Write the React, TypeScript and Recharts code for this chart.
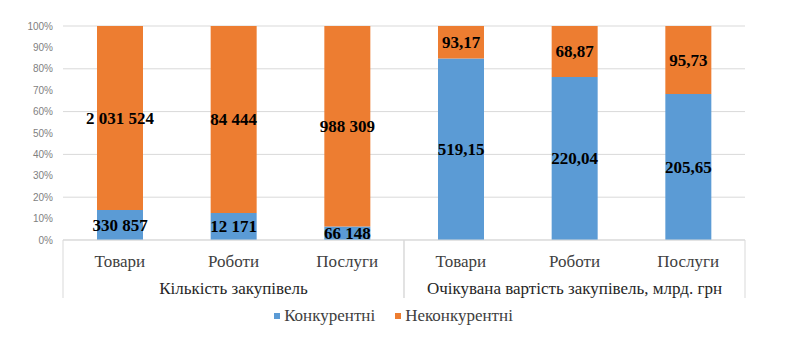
import { Bar, BarChart, CartesianGrid, LabelList, Legend, XAxis, YAxis } from "recharts";

const categories = ["Товари", "Роботи", "Послуги", "Товари", "Роботи", "Послуги"];
const groups = [
  "Кількість закупівель",
  "Кількість закупівель",
  "Кількість закупівель",
  "Очікувана вартість закупівель, млрд. грн",
  "Очікувана вартість закупівель, млрд. грн",
  "Очікувана вартість закупівель, млрд. грн",
];
const competitive = [330857, 12171, 66148, 519.15, 220.04, 205.65];
const nonCompetitive = [2031524, 84444, 988309, 93.17, 68.87, 95.73];
const yTicks = [0, 0.1, 0.2, 0.3, 0.4, 0.5, 0.6, 0.7, 0.8, 0.9, 1];

const data = categories.map((name, i) => ({
  key: `${groups[i]}-${name}`,
  name,
  group: groups[i],
  comp: competitive[i],
  nonComp: nonCompetitive[i],
}));

const BLUE = "#5b9bd5";
const ORANGE = "#ed7d31";
const SERIF = "'Liberation Serif', 'Times New Roman', serif";

const W = 787;
const H = 355;
const LEFT = 63;
const RIGHT = 42;

// пробіли між тисячами, кома в дробах
const fmt = (v: number) =>
  Number.isInteger(v)
    ? String(v).replace(/\B(?=(\d{3})+(?!\d))/g, " ")
    : v.toFixed(2).replace(".", ",");

const ValueLabel = ({ x, y, width, height, value }: any) => (
  <text
    x={Number(x) + Number(width) / 2}
    y={Number(y) + Number(height) / 2}
    dy="0.35em"
    textAnchor="middle"
    fontFamily={SERIF}
    fontSize={17}
    fontWeight={700}
    fill="#000"
  >
    {fmt(Number(value))}
  </text>
);

const CatTick = ({ x, y, payload, index }: any) => (
  <text x={x} y={y + 19} textAnchor="middle" fontSize={17} fontFamily={SERIF} fill="#404040">
    {categories[index] ?? payload.value}
  </text>
);

const GroupTick = ({ x, y, payload }: any) => {
  const half = (W - LEFT - RIGHT) / 4;
  return (
    <g>
      <line x1={x - half} x2={x - half} y1={y - 43} y2={y + 15} stroke="#d9d9d9" />
      <line x1={x + half} x2={x + half} y1={y - 43} y2={y + 15} stroke="#d9d9d9" />
      <text x={x} y={y + 11} textAnchor="middle" fontSize={17} fontFamily={SERIF} fill="#262626">
        {payload.value}
      </text>
    </g>
  );
};

const LegendBox = () => (
  <div
    style={{
      display: "flex",
      justifyContent: "center",
      gap: 20,
      fontFamily: SERIF,
      fontSize: 17,
      color: "#404040",
    }}
  >
    {[
      { label: "Конкурентні", color: BLUE },
      { label: "Неконкурентні", color: ORANGE },
    ].map((it) => (
      <span key={it.label} style={{ display: "flex", alignItems: "center", gap: 4 }}>
        <span style={{ width: 6, height: 6, background: it.color, display: "inline-block" }} />
        {it.label}
      </span>
    ))}
  </div>
);

export default function App() {
  return (
    <div style={{ position: "absolute", left: 0, top: 0, width: W, height: H, background: "#fff" }}>
      <BarChart
        width={W}
        height={H}
        data={data}
        stackOffset="expand"
        barSize={46}
        margin={{ top: 26, right: RIGHT, left: 23, bottom: 22 }}
      >
        <CartesianGrid vertical={false} stroke="#d9d9d9" />
        <XAxis
          dataKey="key"
          tick={<CatTick />}
          tickLine={false}
          axisLine={{ stroke: "#d9d9d9" }}
          height={35}
          interval={0}
        />
        <XAxis
          xAxisId="g"
          dataKey="group"
          allowDuplicatedCategory={false}
          tick={<GroupTick />}
          tickLine={false}
          axisLine={false}
          height={38}
          interval={0}
        />
        <YAxis
          ticks={yTicks}
          domain={[0, 1]}
          tickFormatter={(v: number) => `${Math.round(v * 100)}%`}
          tick={{ fontSize: 10, fill: "#7f7f7f", fontFamily: "'Liberation Sans', Arial, sans-serif" }}
          tickLine={false}
          axisLine={false}
          tickSize={0}
          tickMargin={10}
          width={40}
        />
        <Legend content={<LegendBox />} wrapperStyle={{ top: 306, left: 0, width: W }} />
        <Bar dataKey="comp" stackId="s" fill={BLUE} isAnimationActive={false}>
          <LabelList dataKey="comp" content={<ValueLabel />} />
        </Bar>
        <Bar dataKey="nonComp" stackId="s" fill={ORANGE} isAnimationActive={false}>
          <LabelList dataKey="nonComp" content={<ValueLabel />} />
        </Bar>
      </BarChart>
    </div>
  );
}
